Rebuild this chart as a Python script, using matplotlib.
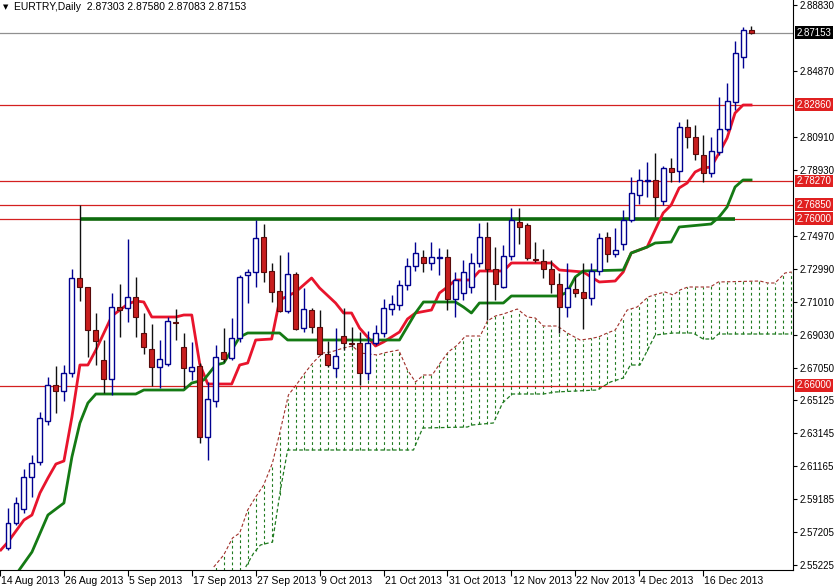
import numpy as np
import matplotlib
matplotlib.use("Agg")
import matplotlib.pyplot as plt
from matplotlib.transforms import blended_transform_factory

plt.rcParams['font.family'] = ['Liberation Sans', 'DejaVu Sans']

# ---- data: daily OHLC, EURTRY ----
opens = [2.5625,2.5775,2.5859,2.6051,2.6141,2.6387,2.6603,2.6567,2.6675,2.7245,
         2.7191,2.6933,2.6753,2.6639,2.7071,2.7065,2.7131,2.6915,2.6819,2.6711,
         2.6729,2.6981,2.6831,2.6687,2.6717,2.6291,2.6507,2.6801,2.6765,2.6885,
         2.7263,2.7281,2.7491,2.7287,2.7167,2.7047,2.7269,2.6945,2.7053,2.6951,
         2.6789,2.6705,2.6897,2.6855,2.6855,2.6675,2.6855,2.6915,2.7059,2.7083,
         2.7203,2.7317,2.7371,2.7335,2.7368,2.7371,2.7119,2.7155,2.7191,2.7335,
         2.7491,2.7299,2.7191,2.7377,2.7581,2.7563,2.7359,2.7347,2.7299,2.7209,
         2.7071,2.7179,2.7161,2.7125,2.7287,2.7491,2.7389,2.7449,2.7593,2.7743,
         2.7830,2.7833,2.7707,2.7905,2.7887,2.8151,2.8091,2.7983,2.7875,2.8001,
         2.8139,2.8301,2.8571,2.87303]
highs = [2.5865,2.5931,2.6099,2.6183,2.6441,2.6651,2.6717,2.6723,2.7299,2.7683,
         2.7191,2.7035,2.6873,2.7155,2.7209,2.7479,2.7251,2.7035,2.6969,2.6873,
         2.7011,2.7059,2.6915,2.6861,2.6735,2.6621,2.6843,2.6945,2.7005,2.7263,
         2.7299,2.7593,2.7569,2.7335,2.7383,2.7401,2.7281,2.7185,2.7065,2.7053,
         2.6867,2.6945,2.7065,2.6951,2.6921,2.6927,2.6963,2.7119,2.7143,2.7233,
         2.7365,2.7461,2.7413,2.7461,2.7425,2.7419,2.7281,2.7353,2.7395,2.7575,
         2.7581,2.7431,2.7443,2.7665,2.7665,2.7575,2.7461,2.7419,2.7353,2.7275,
         2.7335,2.7251,2.7335,2.7335,2.7515,2.7521,2.7545,2.7653,2.7851,2.7899,
         2.7941,2.7995,2.7917,2.7965,2.8181,2.8199,2.8163,2.8103,2.8091,2.8331,
         2.8415,2.8667,2.8751,2.87580]
lows = [2.5613,2.5763,2.5835,2.5931,2.6123,2.6363,2.6435,2.6507,2.6651,2.7107,
        2.6771,2.6723,2.6555,2.6543,2.6891,2.6981,2.6891,2.6789,2.6597,2.6585,
        2.6717,2.6873,2.6585,2.6633,2.6255,2.6153,2.6471,2.6741,2.6753,2.6861,
        2.7095,2.7191,2.7221,2.7101,2.7041,2.7035,2.6933,2.6921,2.6915,2.6783,
        2.6711,2.6651,2.6813,2.6831,2.6603,2.6633,2.6843,2.6891,2.7023,2.7053,
        2.7173,2.7287,2.7281,2.7293,2.7263,2.7053,2.7011,2.7113,2.7155,2.7311,
        2.6993,2.7113,2.7185,2.7353,2.7449,2.7353,2.7341,2.7245,2.7155,2.6915,
        2.7011,2.7131,2.6939,2.7083,2.7263,2.7341,2.7371,2.7413,2.7581,2.7689,
        2.7731,2.7611,2.7683,2.7821,2.7821,2.8025,2.7953,2.7821,2.7851,2.7983,
        2.8127,2.8253,2.8505,2.87083]
closes = [2.5775,2.5895,2.6051,2.6135,2.6405,2.6603,2.6567,2.6675,2.7245,2.7191,
          2.6933,2.6867,2.6639,2.7071,2.7053,2.7131,2.7011,2.6831,2.6711,2.6759,
          2.6987,2.6978,2.6705,2.6711,2.6291,2.6519,2.6771,2.6759,2.6885,2.7251,
          2.7281,2.7485,2.7281,2.7161,2.7047,2.7269,2.6939,2.7059,2.6951,2.6789,
          2.6723,2.6777,2.6855,2.6852,2.6675,2.6855,2.6915,2.7065,2.7089,2.7203,
          2.7317,2.7395,2.7335,2.7371,2.7371,2.7119,2.7233,2.7281,2.7335,2.7491,
          2.7299,2.7209,2.7377,2.7593,2.7551,2.7365,2.7356,2.7299,2.7209,2.7071,
          2.7185,2.7155,2.7125,2.7287,2.7485,2.7389,2.7413,2.7593,2.7755,2.7833,
          2.7833,2.7731,2.7905,2.7881,2.8151,2.8091,2.7989,2.7875,2.8007,2.8139,
          2.8307,2.8595,2.8733,2.87153]

# Ichimoku lines: (bar index, price)
tenkan_i = [-0.9,0,2,3,4,5,6,7,8,9,10,11,13,15,16,17,18,21,22,23,24,25,28,29,30,31,33,34,36,38,39,41,42,43,44,46,47,49,50,51,53,54,55,56,58,59,62,63,68,69,72,74,76,77,78,80,81,82,83,84,85,86,87,88,89,90,91,92,93]
tenkan_p = [2.5613,2.5661,2.5793,2.5823,2.5955,2.6045,2.6129,2.6147,2.6411,2.6723,2.6723,2.6813,2.7017,2.7089,2.7107,2.7101,2.7011,2.7011,2.7023,2.7023,2.6729,2.6609,2.6609,2.6723,2.6735,2.6873,2.6879,2.7113,2.7161,2.7245,2.7185,2.7095,2.7035,2.7035,2.6945,2.6837,2.6861,2.6921,2.6999,2.7035,2.7053,2.7155,2.7191,2.7233,2.7233,2.7287,2.7287,2.7335,2.7335,2.7293,2.7281,2.7221,2.7227,2.7281,2.7395,2.7431,2.7533,2.7635,2.7683,2.7785,2.7815,2.7881,2.7905,2.7911,2.7995,2.8085,2.8235,2.8283,2.8283]
kijun_i = [1.4,3,5,7,8,9,10,11,16,17,22,23,24.5,26,27,28,29,30,34,35,49,51,52,56,57,58,59,62,63,69,70,71,72,77,78,80,81,83,84,88,89,90,91,92,93]
kijun_p = [2.5493,2.5601,2.5823,2.5895,2.6171,2.6375,2.6495,2.6549,2.6549,2.6573,2.6573,2.6615,2.6633,2.6723,2.6735,2.6813,2.6891,2.6915,2.6915,2.6873,2.6873,2.7035,2.7101,2.7101,2.7071,2.7035,2.7095,2.7095,2.7137,2.7137,2.7161,2.7251,2.7287,2.7293,2.7395,2.7431,2.7455,2.7461,2.7551,2.7569,2.7611,2.7671,2.7791,2.7833,2.7833]
spana_i = [25.75,27,28.1,29,30,31,32,33.1,34.1,35.1,36.25,37.25,38.25,39.4,40.4,42,43.1,44.1,46.25,47,48.9,50,51,52,53.1,54.1,55.1,56.25,57.25,59.1,60,61,62,63.75,65,66,67,68.75,70,71.6,72.6,73.9,75,76,77.5,78.75,80.1,81.25,82.25,83.25,84.1,85.1,87.9,88.9,94.1,95.1,96,97.25,98.1]
spana_p = [2.5511,2.5583,2.5685,2.5715,2.5853,2.5931,2.6003,2.6135,2.6333,2.6543,2.6615,2.6681,2.6741,2.6795,2.6801,2.6825,2.6837,2.6795,2.6783,2.6795,2.6813,2.6693,2.6621,2.6663,2.6663,2.6735,2.6801,2.6843,2.6897,2.6897,2.6987,2.7017,2.7029,2.7059,2.7011,2.7005,2.6957,2.6957,2.6915,2.6873,2.6879,2.6891,2.6915,2.6933,2.7053,2.7071,2.7131,2.7149,2.7161,2.7143,2.7173,2.7191,2.7191,2.7221,2.7227,2.7215,2.7215,2.7275,2.7281]
spanb_i = [29.75,30.75,31.6,33.1,34.1,35,50.75,51.9,57.5,58.1,60.75,61.9,63.1,67,68.5,73.75,75.4,77,77.9,79.1,81,83.25,85.75,87,88.25,88.9,98.1]
spanb_p = [2.5511,2.5595,2.5643,2.5661,2.5973,2.6213,2.6213,2.6345,2.6351,2.6363,2.6375,2.6495,2.6549,2.6549,2.6561,2.6573,2.6621,2.6645,2.6723,2.6723,2.6903,2.6915,2.6915,2.6879,2.6879,2.6909,2.6909]

red_levels = [2.82860, 2.78270, 2.76850, 2.76000, 2.66000]
red_labels = ["2.82860", "2.78270", "2.76850", "2.76000", "2.66000"]
last_price = 2.87153
green_level = 2.76000
green_start, green_end = 9, 91
yticks = [2.88830,2.84870,2.80910,2.78930,2.74970,2.72990,2.71010,2.69030,2.67050,2.65125,2.63145,2.61165,2.59185,2.57205,2.55225]
date_pos = [-1,7,15,23,31,39,47,55,63,71,79,87]
date_labels = ["14 Aug 2013","26 Aug 2013","5 Sep 2013","17 Sep 2013","27 Sep 2013","9 Oct 2013",
               "21 Oct 2013","31 Oct 2013","12 Nov 2013","22 Nov 2013","4 Dec 2013","16 Dec 2013"]
title = "EURTRY,Daily  2.87303 2.87580 2.87083 2.87153"

FS = 7
W, H = 834, 587
fig = plt.figure(figsize=(W/100, H/100), dpi=100)
ax = fig.add_axes([0, (H-570)/H, 793/W, 570/H])
YMIN, YMAX = 2.5493, 2.8913
ax.set_xlim(-0.875, 98.25)
ax.set_ylim(YMIN, YMAX)

# cloud hatching
ci = np.arange(26, 99)
top = np.interp(ci, spana_i, spana_p, left=YMIN)
bot = np.interp(ci, spanb_i, spanb_p, left=YMIN - 0.01)
ax.vlines(ci, bot, top, colors="#1f7a1f", linestyles=(0, (2.5, 2.5)), lw=0.8, zorder=1)
ax.plot(spana_i, spana_p, color="#a0302a", ls=(0, (3, 2)), lw=0.8, zorder=1)
ax.plot(spanb_i, spanb_p, color="#1f7a1f", ls=(0, (3, 2)), lw=0.9, zorder=1)

# horizontal levels
for lv in red_levels:
    ax.axhline(lv, color="#d42020", lw=0.9, zorder=2)
ax.axhline(last_price, color="#909090", lw=0.9, zorder=2)
ax.hlines(green_level, green_start, green_end, color="#0e6b0e", lw=2.6, zorder=3)

# ichimoku lines
ax.plot(tenkan_i, tenkan_p, color="#e8142c", lw=2, zorder=4)
ax.plot(kijun_i, kijun_p, color="#147a14", lw=2, zorder=4)

# candles
o = np.array(opens); c = np.array(closes); h = np.array(highs); l = np.array(lows)
x = np.arange(len(o))
up = c >= o
ax.vlines(x[up], l[up], h[up], color="#000090", lw=1, zorder=5)
ax.vlines(x[~up], l[~up], h[~up], color="#101010", lw=1, zorder=5)
bh = np.maximum(np.abs(c - o), 0.0004)
ax.bar(x[up], bh[up], bottom=np.minimum(o, c)[up], width=0.62, facecolor="white",
       edgecolor="#000090", lw=1, zorder=6)
ax.bar(x[~up], bh[~up], bottom=np.minimum(o, c)[~up], width=0.62, facecolor="#c81e1e",
       edgecolor="#5a0a0a", lw=0.8, zorder=6)

# axes styling
for s in ["top", "left"]:
    ax.spines[s].set_visible(False)
ax.spines["right"].set_color("black")
ax.spines["bottom"].set_color("black")
ax.yaxis.tick_right()
ax.set_yticks(yticks)
ax.set_yticklabels([f"{v:.5f}" for v in yticks], fontsize=FS)
ax.tick_params(axis="y", length=3, pad=2)
ax.set_xticks(date_pos)
ax.set_xticklabels([])
ax.tick_params(axis="x", length=4)
for p, t in zip(date_pos, date_labels):
    ax.text(p + 0.15, YMIN - 0.0035, t, ha="left", va="top", fontsize=7.5, clip_on=False)

tr = blended_transform_factory(ax.transAxes, ax.transData)
for lv, lb in zip(red_levels, red_labels):
    ax.text(1.004, lv, lb, transform=tr, ha="left", va="center", fontsize=FS, color="white",
            bbox=dict(boxstyle="square,pad=0.15", fc="#e02020", ec="none"), clip_on=False, zorder=10)
ax.text(1.004, last_price, f"{last_price:.5f}", transform=tr, ha="left", va="center", fontsize=FS,
        color="white", bbox=dict(boxstyle="square,pad=0.15", fc="black", ec="none"), clip_on=False, zorder=10)

fig.text(14/W, 1 - 7/H, title, ha="left", va="center", fontsize=7.5)
fig.text(3/W, 1 - 7/H, "\u25bc", ha="left", va="center", fontsize=5, family="DejaVu Sans")

fig.savefig("out.png", dpi=100)
